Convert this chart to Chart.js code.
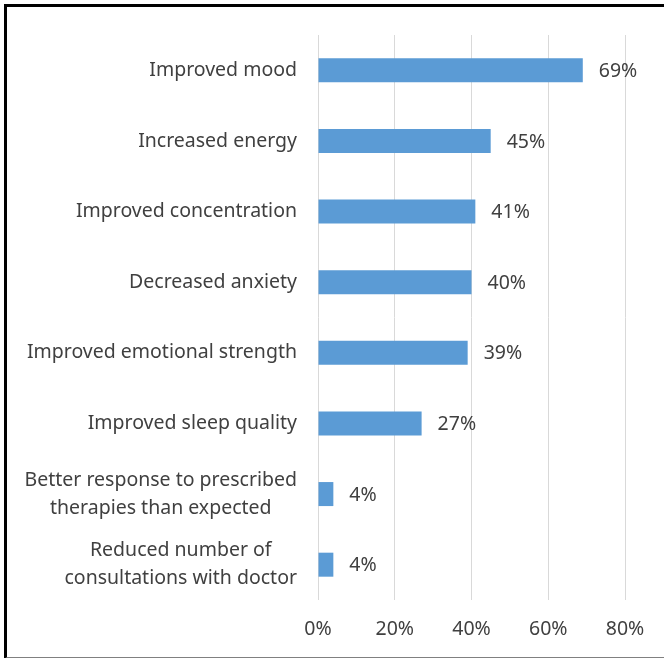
<!DOCTYPE html>
<html>
<head>
<meta charset="utf-8">
<script src="https://cdn.jsdelivr.net/npm/chart.js@4.4.1/dist/chart.umd.min.js"></script>
<style>
  html, body { margin: 0; padding: 0; background: #fff; }
  #wrap { position: relative; width: 664px; height: 658px; overflow: hidden; }
  #frame {
    position: absolute; left: 4px; top: 4px; width: 670px; height: 650px;
    border-top: 3px solid #000; border-left: 3px solid #000; border-bottom: 2px solid #808080;
    pointer-events: none;
  }
  canvas { position: absolute; left: 0; top: 0; }
</style>
</head>
<body>
<div id="wrap">
  <canvas id="myChart" width="664" height="658"></canvas>
  <div id="frame"></div>
</div>
<script>
const benefits = [
    'Improved mood',
    'Increased energy',
    'Improved concentration',
    'Decreased anxiety',
    'Improved emotional strength',
    'Improved sleep quality',
    ['Better response to prescribed', 'therapies than expected'],
    ['Reduced number of', 'consultations with doctor']
];
const sharePercent = [69, 45, 41, 40, 39, 27, 4, 4];
const xTicks = [0, 20, 40, 60, 80];

const textColor = '#404040';
const fontFamily = '"Noto Sans", "Open Sans", sans-serif';
const fontSize = 19.5;
const lineGap = 28;

// category names: block right-aligned to the axis, lines centred inside the block
const categoryLabels = {
    id: 'categoryLabels',
    afterDraw(chart) {
        const ctx = chart.ctx;
        const yScale = chart.scales.y;
        const right = chart.chartArea.left - 21;
        ctx.save();
        ctx.font = fontSize + 'px ' + fontFamily;
        ctx.fillStyle = textColor;
        ctx.textAlign = 'center';
        ctx.textBaseline = 'middle';
        benefits.forEach(function (label, i) {
            const lines = Array.isArray(label) ? label : [label];
            const widest = Math.max.apply(null, lines.map(l => ctx.measureText(l).width));
            const cx = right - widest / 2;
            const yc = yScale.getPixelForTick(i);
            const y0 = yc - (lines.length - 1) * lineGap / 2;
            lines.forEach(function (line, k) {
                ctx.fillText(line, cx, y0 + k * lineGap);
            });
        });
        ctx.restore();
    }
};

// writes the percentage just past the end of each bar
const valueLabels = {
    id: 'valueLabels',
    afterDatasetsDraw(chart) {
        const ctx = chart.ctx;
        const meta = chart.getDatasetMeta(0);
        ctx.save();
        ctx.font = fontSize + 'px ' + fontFamily;
        ctx.fillStyle = textColor;
        ctx.textAlign = 'left';
        ctx.textBaseline = 'middle';
        meta.data.forEach(function (bar, i) {
            ctx.fillText(sharePercent[i] + '%', bar.x + 16, bar.y + 1);
        });
        ctx.restore();
    }
};

const ctx = document.querySelector('#myChart').getContext('2d');
const myChart = new Chart(ctx, {
    type: 'bar',
    data: {
        labels: benefits,
        datasets: [{
            data: sharePercent,
            backgroundColor: '#5B9BD5',
            borderWidth: 0,
            barPercentage: 0.34,
            categoryPercentage: 1
        }]
    },
    options: {
        indexAxis: 'y',
        responsive: false,
        animation: false,
        layout: {
            padding: { left: 0, top: 35, right: 39, bottom: 0 }
        },
        plugins: {
            legend: { display: false },
            tooltip: { enabled: false }
        },
        scales: {
            x: {
                min: 0,
                max: 80,
                afterBuildTicks: function (scale) {
                    scale.ticks = xTicks.map(v => ({ value: v }));
                },
                afterFit: function (scale) {
                    scale.height = 58;
                    scale.paddingLeft = 0;
                    scale.paddingRight = 0;
                },
                grid: { color: '#d9d9d9', drawTicks: false },
                border: { display: false },
                ticks: {
                    padding: 18,
                    color: textColor,
                    font: { family: fontFamily, size: fontSize },
                    callback: v => v + '%'
                }
            },
            y: {
                afterFit: function (scale) {
                    scale.width = 318;
                    scale.paddingTop = 0;
                    scale.paddingBottom = 0;
                },
                grid: { display: false, drawTicks: false },
                border: { display: false },
                ticks: { display: false }
            }
        }
    },
    plugins: [valueLabels, categoryLabels]
});
</script>
</body>
</html>
